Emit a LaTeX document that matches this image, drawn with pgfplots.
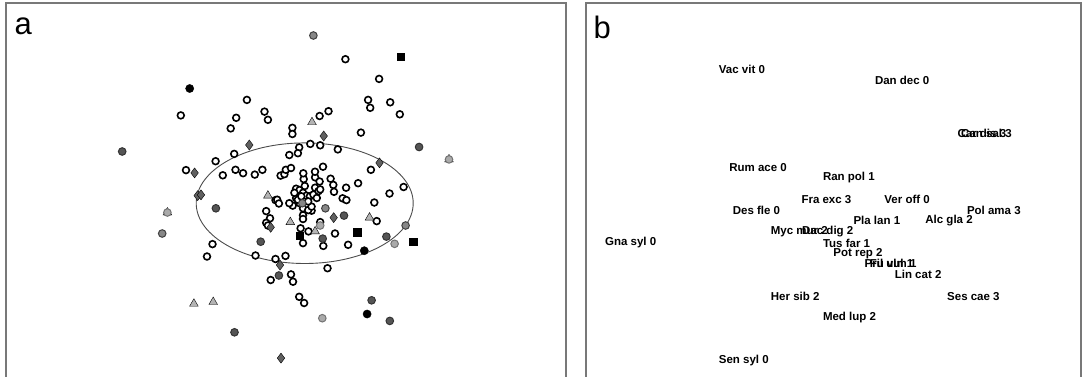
\documentclass[border=0pt]{standalone}
\usepackage{pgfplots}
\pgfplotsset{compat=1.18}
\usepackage{fontspec}
\setmainfont{Liberation Sans}
\definecolor{frame}{RGB}{120,120,120}
\definecolor{dgrey}{RGB}{85,85,85}
\definecolor{mgrey}{RGB}{135,135,135}
\definecolor{lgrey}{RGB}{170,170,170}
\definecolor{diam}{RGB}{96,96,96}
\definecolor{tri}{RGB}{180,180,180}
\begin{document}
\begin{tikzpicture}
\path[use as bounding box] (0,0) rectangle (1084pt,376pt);
\pgfplotsset{panel/.style={scale only axis, height=383pt, ymin=3, ymax=386, y dir=reverse,
  xtick=\empty, ytick=\empty, axis line style={draw=frame, line width=1.4pt}, clip=false}}
% ---------------- panel a ----------------
\begin{axis}[panel, at={(6pt,-10pt)}, anchor=south west, width=560pt, xmin=6, xmax=566]
\draw[draw=black!70, line width=0.9pt] (axis cs:304.7,203.2) ellipse [x radius=108.5, y radius=60.3];
% open circles
\addplot[only marks, mark=*, mark size=3.4pt, mark options={draw=black, fill=white, line width=1.6pt}] coordinates {
(345.4,59.2)(379.1,78.9)(246.9,99.9)(368.1,99.9)(370.2,107.8)(390.2,102.3)(399.8,114.3)(180.8,115.4)
(264.5,111.6)(267.9,119.8)(236.2,117.8)(230.7,128.4)(319.6,116)(328.5,111.2)(292.4,127.8)(292.4,134)
(360.9,132.6)(310.3,143.9)(320.2,145.3)(299.2,147.4)(297.9,153.2)(289.3,155)(337.8,149.4)(234.2,153.9)
(215.6,161.2)(186,170.1)(222.8,175.3)(235.5,169.8)(243.1,173.2)(254.8,174.6)(262.4,169.8)(323,166.7)
(370.9,169.8)(280.6,175.6)(284.4,174.2)(285.8,169.8)(291,168)(303.7,179.1)(315.1,177.3)(319.6,181.5)
(330.6,178.7)(333.3,184.9)(346.1,187.7)(358.1,183.2)(403.6,187)(389.5,193.5)(334,191.8)(342.6,198.3)
(346.4,200.1)(374.3,202.5)(275.5,200.1)(277.2,199.7)(278.9,203.5)(266.2,211.1)(270,218.3)(266.2,222.8)
(267.9,225.5)(303,215.2)(303,219)(311.6,210.7)(320.2,222.1)(376.7,221.1)(300.6,228.3)(308.5,231.4)
(335,233.5)(348.1,244.8)(303,243.1)(323.3,245.9)(212.5,244.1)(207,256.5)(255.5,255.5)(275.5,259)
(285.5,255.9)(327.5,268.2)(291,274.4)(293,281.7)(270.7,280)(299.2,296.8)(304.1,303)
(296.1,188.7)(299.6,190.1)(303,192.8)(306.5,195.6)(309.9,196.3)(313.4,194.6)(316.8,198)(296.1,198)
(299.6,203.2)(292.7,205.6)(303,208.3)(308.2,210.1)(311.6,206.6)(315.1,187.7)(318.5,191.1)(294.4,192.8)
(304.8,186)(297.9,199.7)(308.2,201.4)(301.3,196.3)(320.2,189.4)(289.3,203.2)(303.3,173.3)(315,171.7)
};
% light grey triangles
\addplot[only marks, mark=triangle*, mark size=5pt, mark options={draw=none, fill=tri}] coordinates {
(312,122.2)(267.9,195.6)(290.3,222.1)(369.5,217.6)(193.9,303.7)(213.2,302)(315.1,231.4)
(449,159.4)(167.4,212.5)
};
% dark grey circles
\addplot[only marks, mark=*, mark size=3.8pt, mark options={draw=black!80, fill=dgrey, line width=1pt}] coordinates {
(122.2,151.5)(419.1,147.0)(215.9,208.3)(260.7,241.7)(344,215.6)(322.7,238.6)(386.4,236.6)(278.9,275.5)
(371.6,300.3)(389.8,320.9)(234.5,332.3)
};
% medium grey circles
\addplot[only marks, mark=*, mark size=3.8pt, mark options={draw=black!75, fill=mgrey, line width=1pt}] coordinates {
(313.4,35.5)(162.2,233.5)(325.4,208.3)(405.6,225.5)(302.3,203.2)
};
% light grey circles
\addplot[only marks, mark=*, mark size=3.8pt, mark options={draw=black!55, fill=lgrey, line width=1pt}] coordinates {
(449,159.4)(167.4,212.5)(394.6,243.8)(322.3,318.2)(320.2,225.5)
};
% black circles
\addplot[only marks, mark=*, mark size=4.1pt, mark options={draw=black, fill=black}] coordinates {
(189.7,88.5)(364.3,250.7)(367.1,314)
};
% black squares
\addplot[only marks, mark=square*, mark size=3.8pt, mark options={draw=black, fill=black}] coordinates {
(400.5,56.8)(357.4,232.4)(413.2,241.7)(299.6,235.5)
};
% dark grey diamonds
\addplot[only marks, mark=diamond*, mark size=5pt, mark options={draw=none, fill=diam}] coordinates {
(249.3,145)(323.7,136)(194.6,172.9)(197.7,195.6)(201,194.9)(379.5,162.9)(333.7,217.6)(270.7,227.3)
(281,358.1)(280,265)
};
\node[anchor=base west, inner sep=0pt, font=\fontsize{31}{31}\selectfont] at (axis cs:14.5,34.4) {a};
\end{axis}
% ---------------- panel b ----------------
\begin{axis}[panel, at={(586pt,-10pt)}, anchor=south west, width=495pt, xmin=586, xmax=1081,
  nodes near coords, point meta=explicit symbolic,
  every node near coord/.append style={anchor=west, inner sep=0pt, yshift=0pt,
     font=\fontsize{11.5}{11.5}\selectfont\bfseries}]
\addplot[only marks, mark=none] table[col sep=comma, meta=lab] {
x,y,lab
718.7,69.4,Vac vit 0
874.8,80.5,Dan dec 0
957.4,133.6,Car dis 3
961.0,133.6,Can sal 3
729.1,167.2,Rum ace 0
822.8,177.7,Ran pol 1
801.3,199.5,Fra exc 3
884.2,199.5,Ver off 0
732.6,210.3,Des fle 0
966.8,210.3,Pol ama 3
853.3,220.7,Pla lan 1
925.2,220.7,Alc gla 2
770.7,231.4,Myc mur 2
802.0,231.4,Dac dig 2
604.9,242.9,Gna syl 0
822.8,242.9,Tus far 1
833.2,253.6,Pot rep 2
864.4,263.7,Pru vul 1
869.6,263.7,Fil ulm 1
894.6,274.8,Lin cat 2
770.7,296.7,Her sib 2
947.0,296.7,Ses cae 3
822.8,317.8,Med lup 2
718.7,360.9,Sen syl 0
};
\node[anchor=base west, inner sep=0pt, font=\fontsize{31}{31}\selectfont] at (axis cs:593.5,38) {b};
\end{axis}
\end{tikzpicture}
\end{document}
